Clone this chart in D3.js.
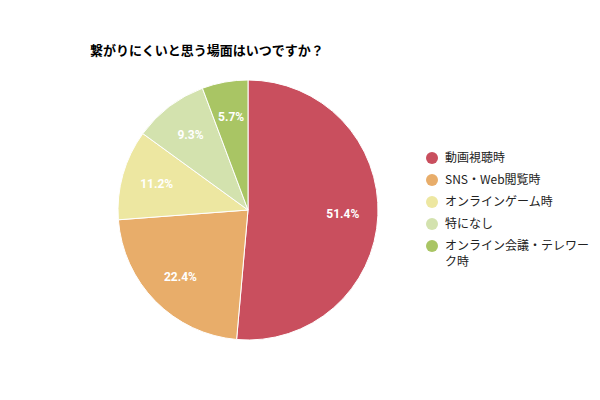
<!DOCTYPE html><html><head><meta charset="utf-8"><script src="https://cdn.jsdelivr.net/npm/d3@7"></script>
<style>body{margin:0;background:#fff}</style></head><body><svg width="600" height="400"></svg>
<script>
const categories=["動画視聴時","SNS・Web閲覧時","オンラインゲーム時","特になし","オンライン会議・テレワーク時"];
const values=[51.4,22.4,11.2,9.3,5.7];
const legendLines=[["動画視聴時"],["SNS・Web閲覧時"],["オンラインゲーム時"],["特になし"],["オンライン会議・テレワー","ク時"]];
const colors=["#c94f5e","#e8ad6a","#ede7a1","#d3e2ae","#a9c564"];
const svg=d3.select("svg");
const font="'Noto Sans CJK JP','Roboto',sans-serif";
svg.append("text").attr("x",90).attr("y",55).attr("font-family",font).attr("font-size",13).attr("font-weight","bold").text("繋がりにくいと思う場面はいつですか？");
const cx=248,cy=210,r=130;
const pie=d3.pie().sort(null)(values);
const arc=d3.arc().innerRadius(0).outerRadius(r);
const g=svg.append("g").attr("transform",`translate(${cx},${cy})`);
g.selectAll("path").data(pie).join("path").attr("d",arc).attr("fill",(d,i)=>colors[i]).attr("stroke","#fff").attr("stroke-width",1);
const la=d3.arc().innerRadius(r*0.73).outerRadius(r*0.73);
g.selectAll("text").data(pie).join("text").attr("transform",d=>`translate(${la.centroid(d)})`).attr("text-anchor","middle").attr("dy","0.35em")
 .attr("font-family","Roboto,sans-serif").attr("font-size",12).attr("font-weight","bold").attr("fill","#fff").text(d=>d.data.toFixed(1)+"%");
const lg=svg.append("g");
let y=158;
legendLines.forEach((ls,i)=>{
 lg.append("circle").attr("cx",432).attr("cy",y).attr("r",6).attr("fill",colors[i]);
 ls.forEach((t,j)=>lg.append("text").attr("x",445).attr("y",y+j*16).attr("dy","0.35em").attr("font-family",font).attr("font-size",12).attr("fill","#222").text(t));
 y+=22;
});
</script></body></html>
